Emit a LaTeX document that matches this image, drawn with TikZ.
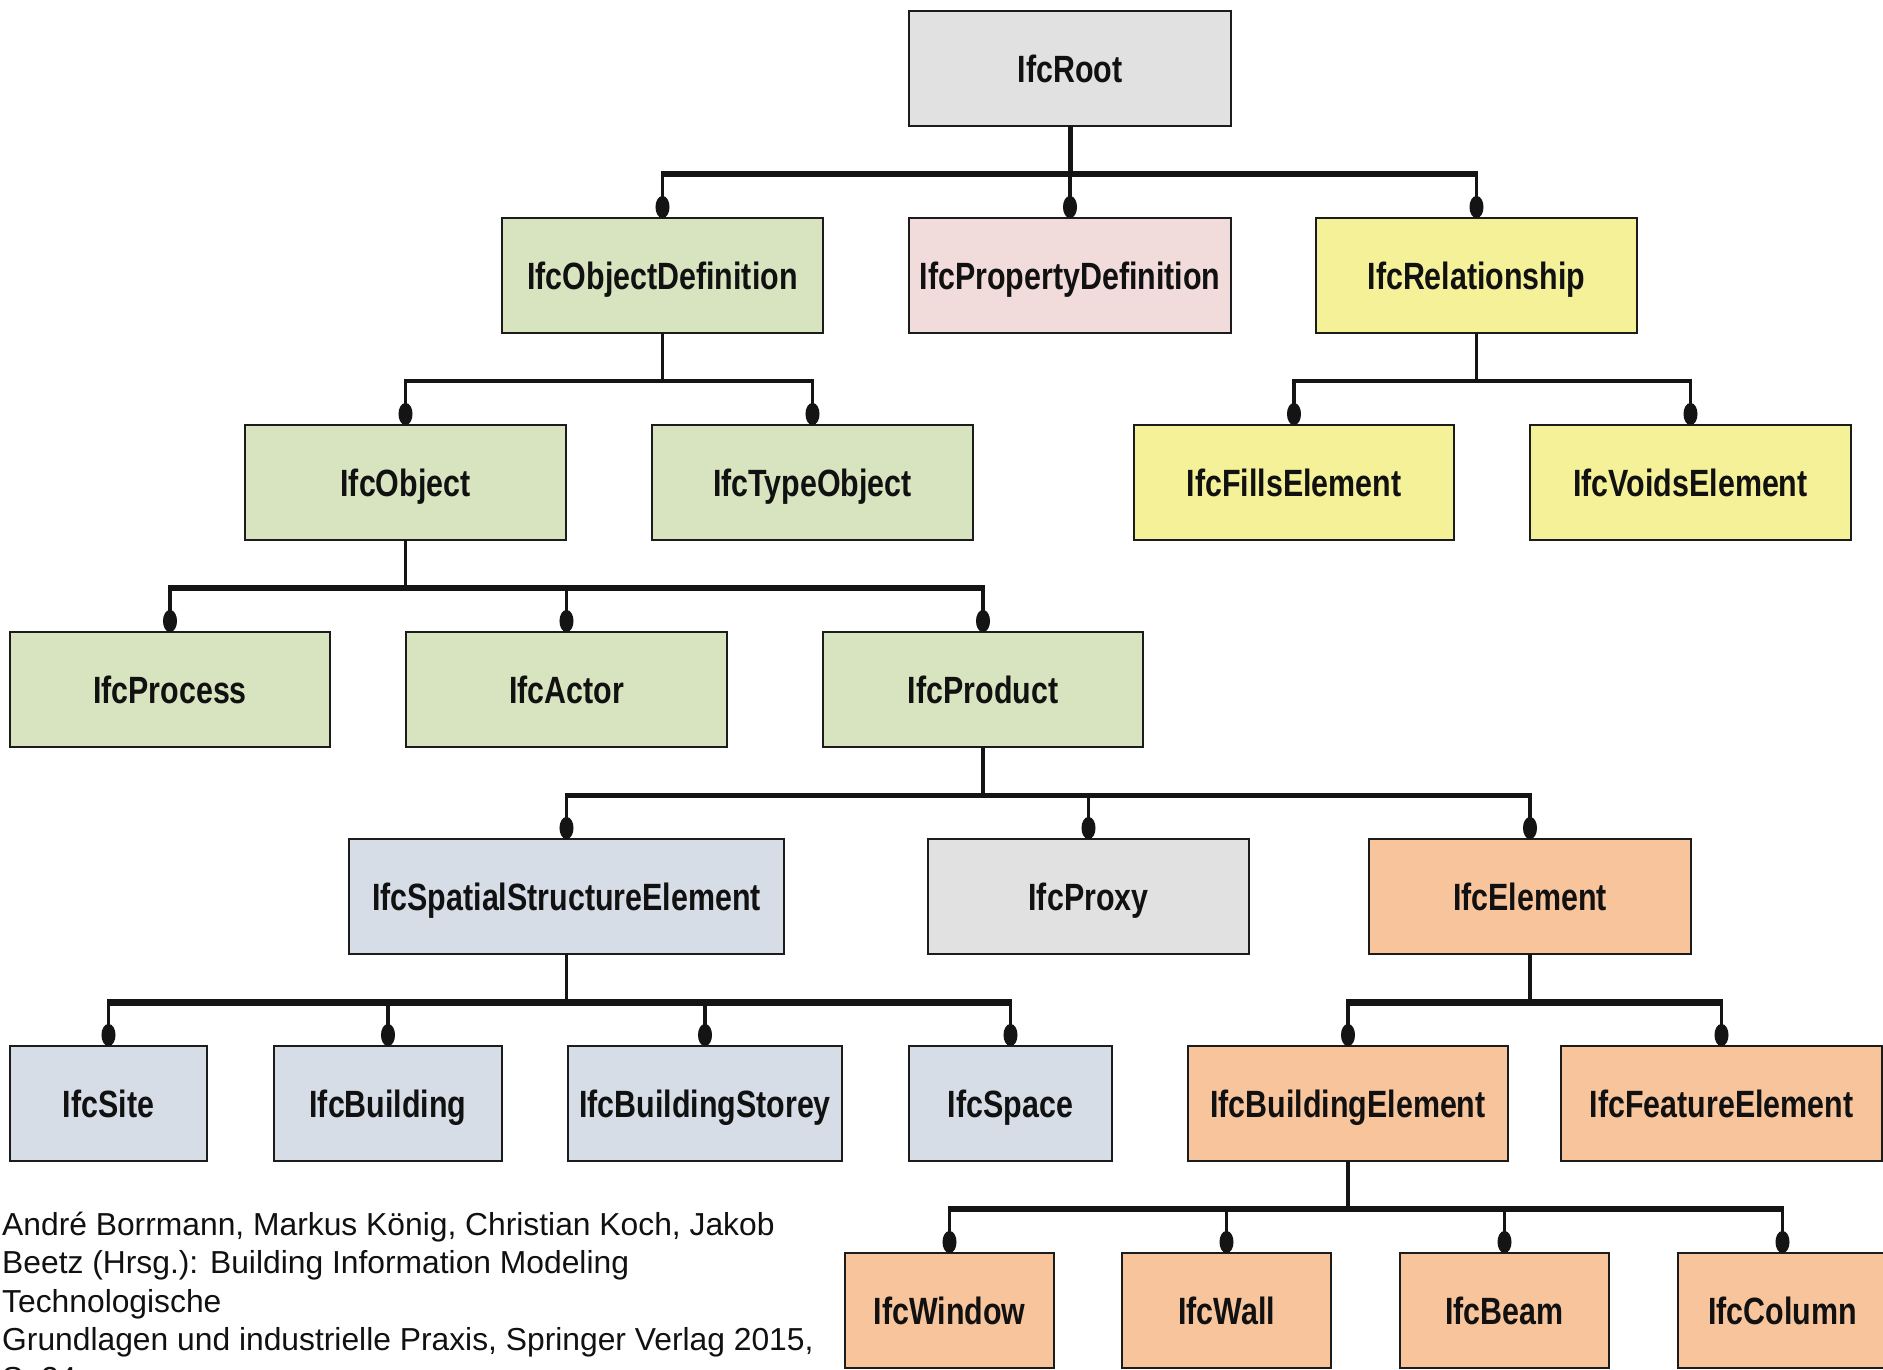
\documentclass[tikz,border=0pt]{standalone}
\usepackage{fontspec}
\setmainfont{Liberation Sans}
\newfontfamily\classfont[FakeStretch=0.8]{Liberation Sans}
\usetikzlibrary{arrows.meta}

\definecolor{boxline}{HTML}{1C1C1C}
\definecolor{wire}{HTML}{141414}
\definecolor{labeltext}{HTML}{111111}
\definecolor{fillgray}{HTML}{E1E1E1}
\definecolor{fillpink}{HTML}{F2DBDB}
\definecolor{fillgreen}{HTML}{D8E4BF}
\definecolor{fillyellow}{HTML}{F5F199}
\definecolor{fillblue}{HTML}{D6DDE7}
\definecolor{fillorange}{HTML}{F8C49C}

\tikzset{
  cls/.style={draw=boxline, line width=2.5pt, minimum height=115pt,
    inner sep=0pt, outer sep=0pt, text=labeltext,
    text height=27pt, text depth=0pt,
    font=\classfont\bfseries\fontsize{38}{40}\selectfont},
  stem/.style={draw=wire, line width=3.5pt},
  rail/.style={draw=wire, line width=6pt, shorten <=-1.75pt, shorten >=-1.75pt},
  drop/.style={draw=wire, line width=3.5pt, -{Ellipse[length=22pt,width=14pt]}},
}

\begin{document}
\begin{tikzpicture}[x=1pt,y=-1pt]
\fill[white] (0,0) rectangle (1883,1369);
\useasboundingbox (0,0) rectangle (1883,1369);

% rail heights of the six levels
\coordinate (b0) at (0,174);
\coordinate (b1) at (0,381);
\coordinate (b2) at (0,588);
\coordinate (b3) at (0,795);
\coordinate (b4) at (0,1002);
\coordinate (b5) at (0,1209);

% level 0
\node[cls, fill=fillgray, minimum width=322pt] (root) at (1070,68.5) {IfcRoot};
% level 1
\node[cls, fill=fillgreen, minimum width=321pt] (objdef) at (662.5,275.5) {IfcObjectDefinition};
\node[cls, fill=fillpink, minimum width=322pt] (propdef) at (1070,275.5) {IfcPropertyDefinition};
\node[cls, fill=fillyellow, minimum width=321pt] (rel) at (1476.5,275.5) {IfcRelationship};
% level 2
\node[cls, fill=fillgreen, minimum width=321pt] (object) at (405.5,482.5) {IfcObject};
\node[cls, fill=fillgreen, minimum width=321pt] (typeobj) at (812.5,482.5) {IfcTypeObject};
\node[cls, fill=fillyellow, minimum width=320pt] (fills) at (1294,482.5) {IfcFillsElement};
\node[cls, fill=fillyellow, minimum width=321pt] (voids) at (1690.5,482.5) {IfcVoidsElement};
% level 3
\node[cls, fill=fillgreen, minimum width=320pt] (process) at (170,689.5) {IfcProcess};
\node[cls, fill=fillgreen, minimum width=321pt] (actor) at (566.5,689.5) {IfcActor};
\node[cls, fill=fillgreen, minimum width=320pt] (product) at (983,689.5) {IfcProduct};
% level 4
\node[cls, fill=fillblue, minimum width=435pt] (spatial) at (566.5,896.5) {IfcSpatialStructureElement};
\node[cls, fill=fillgray, minimum width=321pt] (proxy) at (1088.5,896.5) {IfcProxy};
\node[cls, fill=fillorange, minimum width=322pt] (element) at (1530,896.5) {IfcElement};
% level 5
\node[cls, fill=fillblue, minimum width=197pt] (site) at (108.5,1103.5) {IfcSite};
\node[cls, fill=fillblue, minimum width=228pt] (building) at (388,1103.5) {IfcBuilding};
\node[cls, fill=fillblue, minimum width=274pt] (storey) at (705,1103.5) {IfcBuildingStorey};
\node[cls, fill=fillblue, minimum width=203pt] (space) at (1010.5,1103.5) {IfcSpace};
\node[cls, fill=fillorange, minimum width=320pt] (bldgelem) at (1348,1103.5) {IfcBuildingElement};
\node[cls, fill=fillorange, minimum width=321pt] (feature) at (1721.5,1103.5) {IfcFeatureElement};
% level 6
\node[cls, fill=fillorange, minimum width=209pt] (window) at (949.5,1310.5) {IfcWindow};
\node[cls, fill=fillorange, minimum width=209pt] (wall) at (1226.5,1310.5) {IfcWall};
\node[cls, fill=fillorange, minimum width=209pt] (beam) at (1504.5,1310.5) {IfcBeam};
\node[cls, fill=fillorange, minimum width=209pt] (column) at (1782.5,1310.5) {IfcColumn};

% inheritance connectors: stem, rail, drops with dot ends
\draw[stem, line width=5pt] (root.south) -- (root.south |- b0);
\draw[rail, line width=6.5pt] (objdef.north |- b0) -- (rel.north |- b0);
\foreach \c in {objdef,propdef,rel} \draw[drop] (\c.north |- b0) -- (\c.north);

\draw[stem] (objdef.south) -- (objdef.south |- b1);
\draw[rail, line width=4.5pt] (object.north |- b1) -- (typeobj.north |- b1);
\foreach \c in {object,typeobj} \draw[drop] (\c.north |- b1) -- (\c.north);

\draw[stem] (rel.south) -- (rel.south |- b1);
\draw[rail, line width=4.5pt] (fills.north |- b1) -- (voids.north |- b1);
\foreach \c in {fills,voids} \draw[drop] (\c.north |- b1) -- (\c.north);

\draw[stem] (object.south) -- (object.south |- b2);
\draw[rail] (process.north |- b2) -- (product.north |- b2);
\foreach \c in {process,actor,product} \draw[drop] (\c.north |- b2) -- (\c.north);

\draw[stem] (product.south) -- (product.south |- b3);
\draw[rail, line width=5pt] (spatial.north |- b3) -- (element.north |- b3);
\foreach \c in {spatial,proxy,element} \draw[drop] (\c.north |- b3) -- (\c.north);

\draw[stem] (spatial.south) -- (spatial.south |- b4);
\draw[rail, line width=7pt] (site.north |- b4) -- (space.north |- b4);
\foreach \c in {site,building,storey,space} \draw[drop] (\c.north |- b4) -- (\c.north);

\draw[stem] (element.south) -- (element.south |- b4);
\draw[rail, line width=7pt] (bldgelem.north |- b4) -- (feature.north |- b4);
\foreach \c in {bldgelem,feature} \draw[drop] (\c.north |- b4) -- (\c.north);

\draw[stem] (bldgelem.south) -- (bldgelem.south |- b5);
\draw[rail, line width=6.5pt] (window.north |- b5) -- (column.north |- b5);
\foreach \c in {window,wall,beam,column} \draw[drop] (\c.north |- b5) -- (\c.north);

% source reference
\node[anchor=base west, align=left, inner sep=0pt, text=labeltext,
  font=\fontsize{31.8}{38.5}\selectfont] (credit) at (2,1389)
  {André Borrmann, Markus König, Christian Koch, Jakob\\
   Beetz (Hrsg.): Building Information Modeling\\
   Technologische\\
   Grundlagen und industrielle Praxis, Springer Verlag 2015,\\
   S. 24};
\end{tikzpicture}
\end{document}
